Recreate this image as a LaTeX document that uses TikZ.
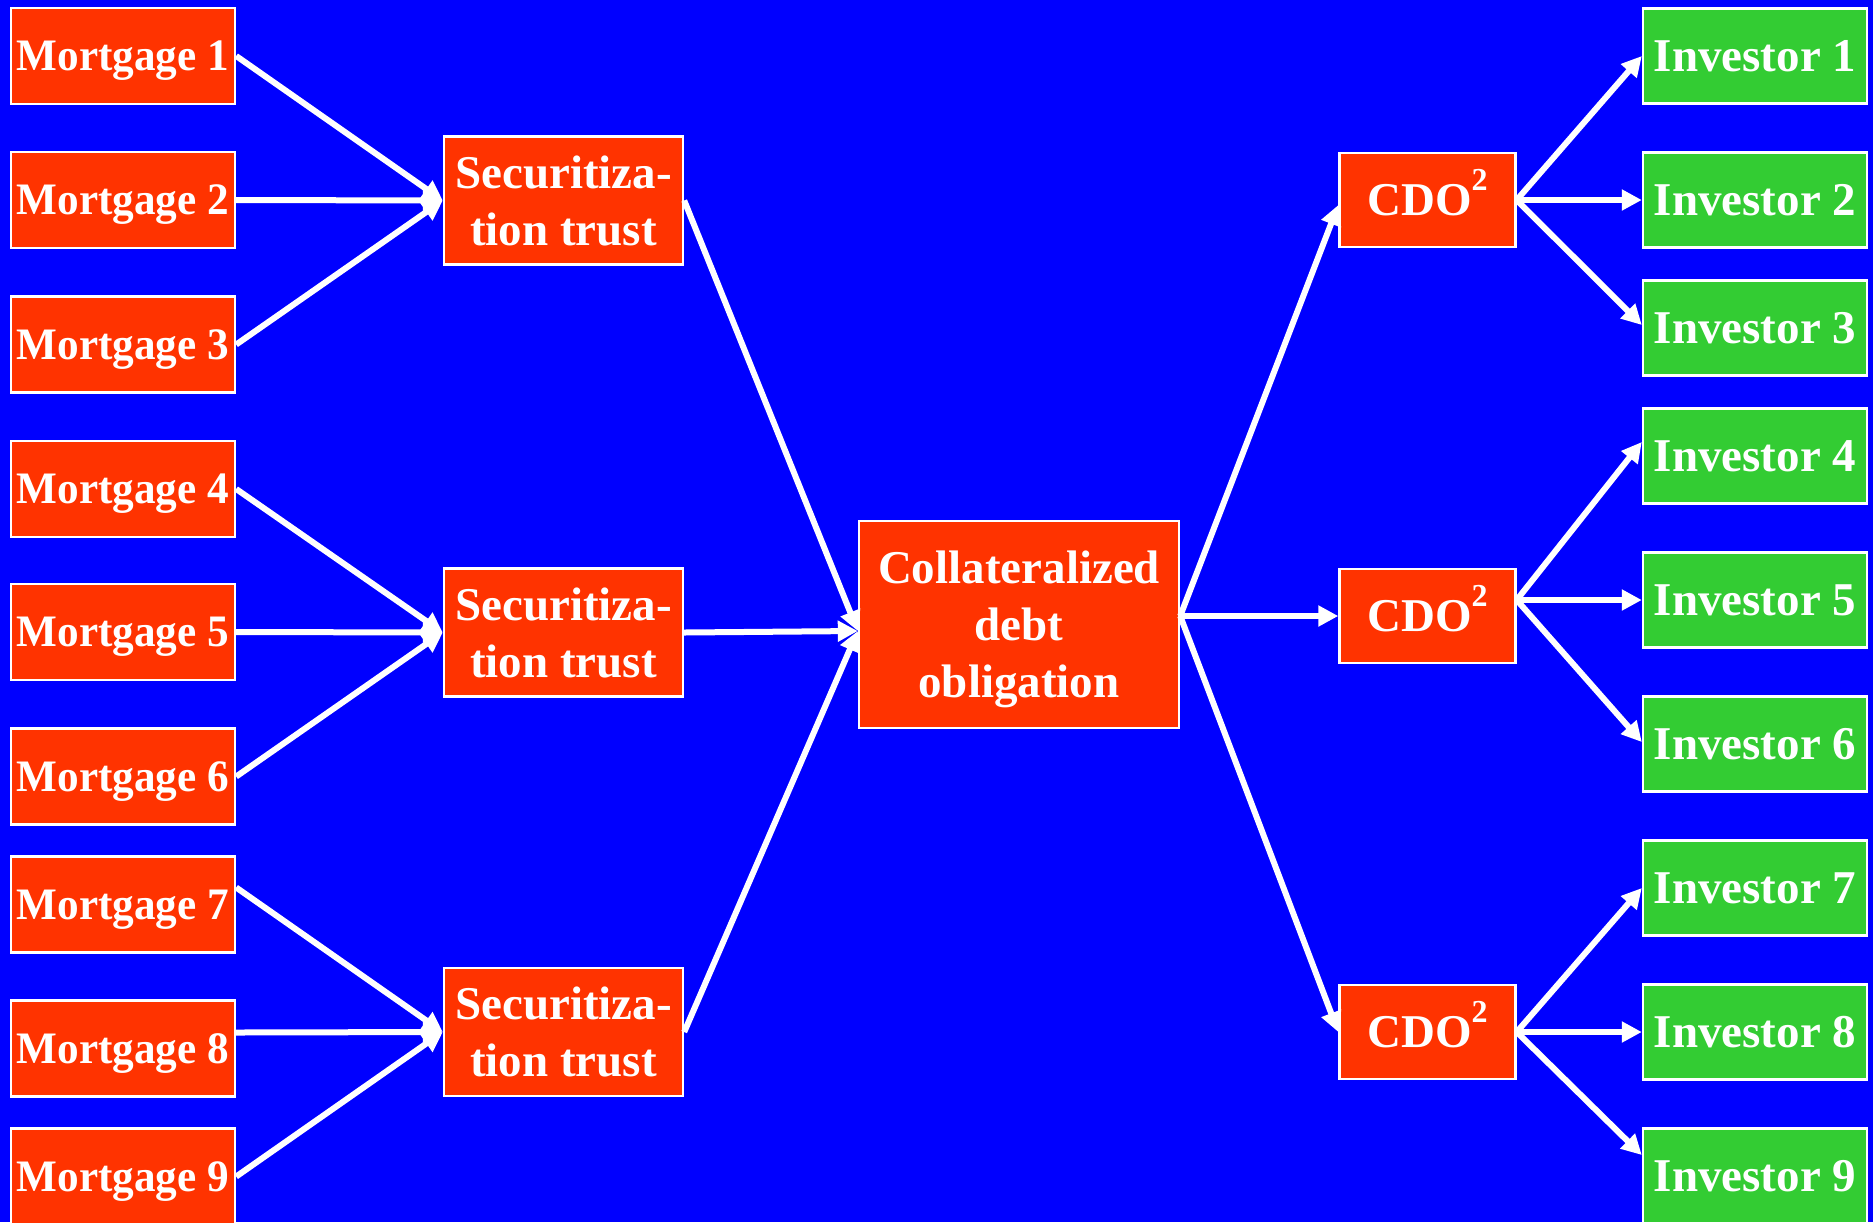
\documentclass[tikz,border=0pt]{standalone}
\usepackage{fontspec}
\setmainfont{Liberation Serif}
\newfontfamily\mortfont{Liberation Serif}[FakeStretch=0.96]
\usetikzlibrary{arrows.meta}
\definecolor{bgblue}{HTML}{0000FF}
\definecolor{boxred}{HTML}{FF3300}
\definecolor{boxgreen}{HTML}{33CC33}
\newcommand{\sqtwo}{\raisebox{12.5pt}[0pt][0pt]{\fontsize{16}{16}\selectfont 2}}
\begin{document}
\begin{tikzpicture}[x=0.5pt,y=-0.5pt,
  box/.style={draw=white, line width=1.2pt, inner sep=0pt, align=center, text=white,
    font=\bfseries\fontsize{23.5}{28.5}\selectfont},
  mort/.style={box, fill=boxred, minimum width=112pt, minimum height=48pt, text depth=0pt,
    font=\mortfont\bfseries\fontsize{22.5}{26}\selectfont},
  inv/.style={box, fill=boxgreen, minimum width=112pt, minimum height=47.5pt, text depth=0pt},
  sec/.style={box, fill=boxred, minimum width=119.5pt, minimum height=64pt},
  cdobox/.style={box, fill=boxred, minimum width=160pt, minimum height=103.5pt, text depth=0pt},
  cdosq/.style={box, fill=boxred, minimum width=88pt, minimum height=47pt, text depth=0pt},
  arr/.style={draw=white, line width=3pt, -{Triangle[length=10pt,width=10pt]}},
]
\clip (0,0) rectangle (1873,1222);
\fill[bgblue] (0,0) rectangle (1873,1222);
\useasboundingbox (0,0) rectangle (1873,1222);

% mortgages
\node[mort] (m1) at (123,56) {Mortgage 1};
\node[mort] (m2) at (123,200) {Mortgage 2};
\node[mort] (m3) at (123,344.5) {Mortgage 3};
\node[mort] (m4) at (123,489) {Mortgage 4};
\node[mort] (m5) at (123,632) {Mortgage 5};
\node[mort] (m6) at (123,776.5) {Mortgage 6};
\node[mort] (m7) at (123,904.5) {Mortgage 7};
\node[mort] (m8) at (123,1048.5) {Mortgage 8};
\node[mort] (m9) at (123,1176.5) {Mortgage 9};

% securitization trusts
\node[sec] (s1) at (563.5,200.5) {Securitiza-\\tion trust};
\node[sec] (s2) at (563.5,632.5) {Securitiza-\\tion trust};
\node[sec] (s3) at (563.5,1032) {Securitiza-\\tion trust};

% CDO
\node[cdobox] (cdo) at (1019,624.5) {Collateralized\\debt\\obligation};

% CDO squared
\node[cdosq] (c1) at (1427.5,200) {CDO\sqtwo};
\node[cdosq] (c2) at (1427.5,616) {CDO\sqtwo};
\node[cdosq] (c3) at (1427.5,1032) {CDO\sqtwo};

% investors
\node[inv] (i1) at (1755,56) {Investor 1};
\node[inv] (i2) at (1755,200) {Investor 2};
\node[inv] (i3) at (1755,328) {Investor 3};
\node[inv] (i4) at (1755,456) {Investor 4};
\node[inv] (i5) at (1755,600) {Investor 5};
\node[inv] (i6) at (1755,744) {Investor 6};
\node[inv] (i7) at (1755,888) {Investor 7};
\node[inv] (i8) at (1755,1032) {Investor 8};
\node[inv] (i9) at (1755,1176) {Investor 9};

% mortgages -> trusts
\draw[arr] (m1.east) -- (s1.west);
\draw[arr] (m2.east) -- (s1.west);
\draw[arr] (m3.east) -- (s1.west);
\draw[arr] (m4.east) -- (s2.west);
\draw[arr] (m5.east) -- (s2.west);
\draw[arr] (m6.east) -- (s2.west);
\draw[arr] ([yshift=8.5pt]m7.east) -- (s3.west);
\draw[arr] ([yshift=8pt]m8.east) -- (s3.west);
\draw[arr] (m9.east) -- (s3.west);

% trusts -> CDO
\coordinate (cin) at ([yshift=-3.25pt]cdo.west);
\draw[arr] (s1.east) -- (cin);
\draw[arr] (s2.east) -- (cin);
\draw[arr] (s3.east) -- (cin);

% CDO -> CDO^2
\coordinate (cout) at ([yshift=4.25pt]cdo.east);
\draw[arr] (cout) -- ([yshift=-2.5pt]c1.west);
\draw[arr] (cout) -- (c2.west);
\draw[arr] (cout) -- (c3.west);

% CDO^2 -> investors
\draw[arr] (c1.east) -- (i1.west);
\draw[arr] (c1.east) -- (i2.west);
\draw[arr] (c1.east) -- ([yshift=1.5pt]i3.west);
\coordinate (c2out) at ([yshift=8pt]c2.east);
\draw[arr] (c2out) -- ([yshift=7pt]i4.west);
\draw[arr] (c2out) -- (i5.west);
\draw[arr] (c2out) -- ([yshift=1pt]i6.west);
\draw[arr] (c3.east) -- (i7.west);
\draw[arr] (c3.east) -- (i8.west);
\draw[arr] (c3.east) -- ([yshift=10.5pt]i9.west);
\end{tikzpicture}
\end{document}
